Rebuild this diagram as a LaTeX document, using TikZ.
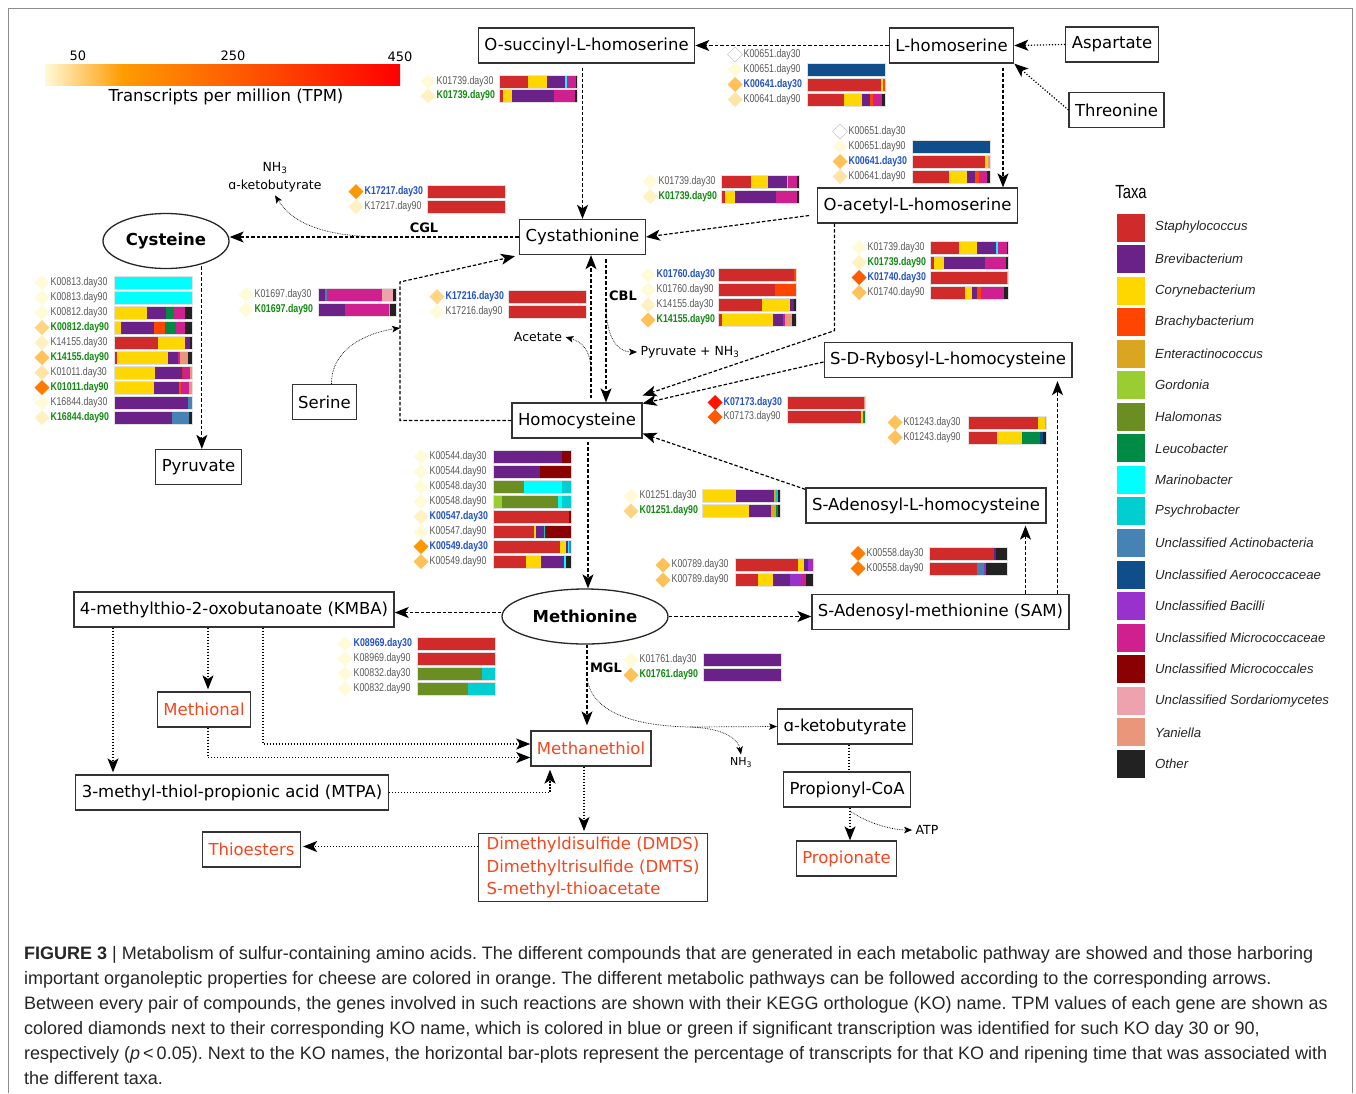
\documentclass[tikz,border=0pt]{standalone}
\usepackage{fontspec}
\setmainfont{DejaVu Sans}
\newfontfamily\arialfont{Liberation Sans}
\newfontfamily\narrowfont[FakeStretch=0.78]{Liberation Sans}
\usetikzlibrary{shapes.geometric,arrows.meta,calc}

% taxa colours
\definecolor{staph}{HTML}{D12A2A}
\definecolor{brevi}{HTML}{6A2188}
\definecolor{coryne}{HTML}{FFD700}
\definecolor{brachy}{HTML}{FF4500}
\definecolor{entero}{HTML}{DAA520}
\definecolor{gordo}{HTML}{9ACD32}
\definecolor{halo}{HTML}{6B8E23}
\definecolor{leuco}{HTML}{008B45}
\definecolor{marino}{HTML}{00FFFF}
\definecolor{psychro}{HTML}{00CED1}
\definecolor{uactino}{HTML}{4682B4}
\definecolor{uaero}{HTML}{104E8B}
\definecolor{ubac}{HTML}{9932CC}
\definecolor{umicroc}{HTML}{D02090}
\definecolor{umicrocl}{HTML}{8B0000}
\definecolor{usord}{HTML}{EEA2AD}
\definecolor{yani}{HTML}{E9967A}
\definecolor{other}{HTML}{222222}
% TPM scale and text colours
\definecolor{barlo}{HTML}{FFF9D6}
\definecolor{barmid}{HTML}{FF9B00}
\definecolor{barhi}{HTML}{FF0000}
\definecolor{aromac}{HTML}{F5461E}
\definecolor{ko30}{HTML}{2352C4}
\definecolor{ko90}{HTML}{128A12}

\tikzset{
  cpd/.style={draw=black!80, line width=1.3pt, fill=white, inner xsep=6pt,
    minimum height=35pt, font=\fontsize{16.5}{20}\selectfont},
  aroma/.style={cpd, text=aromac},
  hub/.style={ellipse, draw=black!85, line width=1.3pt, fill=white, inner sep=0pt,
    font=\bfseries\fontsize{16.5}{20}\selectfont},
  flow/.style={line width=1.2pt, dash pattern=on 3.5pt off 2pt,
    -{Stealth[length=14pt,width=11pt,inset=3.5pt]}},
  side/.style={line width=1.2pt, dash pattern=on 1.2pt off 1.8pt,
    -{Stealth[length=14pt,width=11pt,inset=3.5pt]}},
  twig/.style={line width=0.7pt, densely dotted,
    -{Stealth[length=8pt,width=6.5pt,inset=2pt]}},
  enz/.style={font=\bfseries\fontsize{13}{15}\selectfont},
  small/.style={font=\fontsize{12.5}{18}\selectfont},
  tick/.style={font=\fontsize{13}{15}\selectfont},
  kogray/.style={anchor=west, inner sep=0pt, text=black!65,
    font=\narrowfont\fontsize{11.3}{13}\selectfont},
  kod30/.style={kogray, text=ko30, font=\narrowfont\bfseries\fontsize{11.3}{13}\selectfont},
  kod90/.style={kogray, text=ko90, font=\narrowfont\bfseries\fontsize{11.3}{13}\selectfont},
  taxon/.style={anchor=west, inner sep=0pt, text=black!85,
    font=\arialfont\itshape\fontsize{13.2}{15}\selectfont},
  tpm0/.style={fill=white, draw=black!22, line width=0.4pt},
  tpm1/.style={fill={rgb,255:red,255;green,251;blue,217}},
  tpm2/.style={fill={rgb,255:red,255;green,241;blue,194}},
  tpm3/.style={fill={rgb,255:red,255;green,228;blue,166}},
  tpm4/.style={fill={rgb,255:red,255;green,213;blue,132}},
  tpm5/.style={fill={rgb,255:red,255;green,193;blue,90}},
  tpm6/.style={fill={rgb,255:red,255;green,152;blue,0}},
  tpm7/.style={fill={rgb,255:red,255;green,122;blue,0}},
  tpm8/.style={fill={rgb,255:red,255;green,90;blue,0}},
  tpm9/.style={fill={rgb,255:red,255;green,20;blue,0}},
}

% diamond + KO name: x, y, diamond style, label style, label
\newcount\kon
\newcommand{\kolabel}[5]{%
  \global\advance\kon by 1
  \path[#3] ({#1-7.5},{#2}) -- ({#1},{#2-7.5}) -- ({#1+7.5},{#2}) -- ({#1},{#2+7.5}) -- cycle;
  \node[#4] (ko\the\kon) at ({#1+8.5},{#2}) {#5};}
% stacked bar: x, y, colour/cumulative percent list
\newcommand{\kobar}[3]{%
  \foreach \kc/\ke [remember=\ke as \ks (initially 0)] in {#3}
    {\fill[\kc] ({#1+0.78*\ks},{#2-6.5}) rectangle ({#1+0.78*\ke},{#2+6.5});}
  \draw[black!12, line width=0.5pt] ({#1},{#2-6.5}) rectangle ({#1+78},{#2+6.5});}
% full row: diamond x, bar x, y, diamond, label style, label, bar list
\newcommand{\korow}[7]{\kolabel{#1}{#3}{#4}{#5}{#6}\kobar{#2}{#3}{#7}}

\begin{document}
\frenchspacing
\begin{tikzpicture}[x=1pt,y=-1pt]

% Canvas and frame
\useasboundingbox (0,0) rectangle (1356,1093);
\fill[white] (0,0) rectangle (1356,1093);
\draw[black!45, line width=1pt] (8,1093) -- (8,8.5) -- (1352.5,8.5) -- (1352.5,1093);

% TPM colour bar
\shade[left color=barlo, right color=barmid] (45,64) rectangle (123,85);
\shade[left color=barmid, right color=barhi] (123,64) rectangle (400,85);
\node[tick] (t50) at (78,56) {50};
\node[tick] (t250) at (233,56) {250};
\node[tick] (t450) at (400,57) {450};
\node[font=\fontsize{16.5}{20}\selectfont] (tpmlab) at (226,97) {Transcripts per million (TPM)};

% Compounds
\node[cpd] (osuc) at (586.5,45.5) {O-succinyl-L-homoserine};
\node[cpd] (lhom) at (951.5,45.5) {L-homoserine};
\node[cpd] (asp) at (1112,44.5) {Aspartate};
\node[cpd] (thr) at (1116.5,110) {Threonine};
\node[cpd] (oacet) at (917.5,205.5) {O-acetyl-L-homoserine};
\node[cpd] (cysta) at (582.5,237) {Cystathionine};
\node[hub, minimum width=126pt, minimum height=55pt] (cys) at (166,241) {Cysteine};
\node[cpd] (pyr) at (198.5,467) {Pyruvate};
\node[cpd] (ser) at (324.5,402) {Serine};
\node[cpd] (hcys) at (577,420.5) {Homocysteine};
\node[cpd] (sdr) at (948,360) {S-D-Rybosyl-L-homocysteine};
\node[cpd] (sah) at (926,505.5) {S-Adenosyl-L-homocysteine};
\node[cpd] (sam) at (940.5,612) {S-Adenosyl-methionine (SAM)};
\node[hub, minimum width=166pt, minimum height=55pt] (meth) at (585,616.5) {Methionine};
\node[cpd] (kmba) at (234,609.5) {4-methylthio-2-oxobutanoate (KMBA)};
\node[aroma] (mthl) at (204,709.5) {Methional};
\node[aroma] (mtl) at (591,748.5) {Methanethiol};
\node[cpd] (mtpa) at (232,792.5) {3-methyl-thiol-propionic acid (MTPA)};
\node[aroma] (thio) at (251.5,849.5) {Thioesters};
\node[aroma, align=left, inner xsep=8pt, font=\fontsize{16.5}{22.5}\selectfont] (dmds) at (593,867.5)
  {Dimethyldisulfide (DMDS)\\Dimethyltrisulfide (DMTS)\\S-methyl-thioacetate};
\node[cpd] (aket) at (845,726.5) {ɑ-ketobutyrate};
\node[cpd] (pcoa) at (847,789.5) {Propionyl-CoA};
\node[aroma] (pnate) at (846.5,858.5) {Propionate};

% Side products and enzymes
\node[small, align=center] (ketolab) at (275,177) {NH\textsubscript{3}\\ɑ-ketobutyrate};
\node[enz] (cgl) at (424,228) {CGL};
\node[enz] (cbl) at (623,296) {CBL};
\node[enz] (mgl) at (606,668) {MGL};
\node[small] (acet) at (538,337) {Acetate};
\node[small, anchor=west] (pyrnh) at (637,352) {Pyruvate + NH\textsubscript{3}};
\node[font=\fontsize{11}{13}\selectfont] (nhb) at (741,763) {NH\textsubscript{3}};
\node[small] (atp) at (927,830) {ATP};

% Connectors, upper part
\draw[flow] (lhom.west) -- (osuc.east);
\draw[side] (asp.west) -- (lhom.east);
\draw[side] (thr.west) -- (lhom.south east);
\draw[flow, shorten <=4pt] ([xshift=51.5pt]lhom.south) -- ([xshift=85.5pt]oacet.north);
\draw[flow, shorten <=4pt] (osuc.south -| cysta.north) -- (cysta.north);
\draw[flow, shorten <=8pt] ([yshift=-9pt]oacet.west) -- (cysta.east);
\draw[flow] (cysta.west) -- (cysta.west -| cys.east);
\coordinate (cglfork) at (380,237);
\draw[twig] (cglfork) .. controls (320,236) and (292,222) .. (ketolab.south);
\draw[flow, shorten <=2pt] (cys.-33) -- (cys.-33 |- pyr.north);

% Homocysteine and cystathionine loop
\coordinate (loopc) at (400,282);
\draw[flow] (hcys.west) -| (loopc) -- ([xshift=-4pt,yshift=-1pt]cysta.south west);
\coordinate (serj) at (400,328);
\draw[twig] ([xshift=7pt]ser.north) .. controls (331,350) and (365,333) .. (serj);
\draw[flow, shorten <=4pt] ([xshift=14pt]hcys.north) -- ([xshift=14pt]hcys.north |- cysta.south);
\coordinate (acfork) at (591,372);
\draw[twig] (acfork) .. controls (591,350) and (582,342) .. (acet.east);
\draw[flow, shorten <=4pt] ([xshift=23.5pt]cysta.south) -- ([xshift=23.5pt]cysta.south |- hcys.north);
\coordinate (cblfork) at (606,305);
\draw[twig] (cblfork) .. controls (606,335) and (616,352) .. (pyrnh.west);
\draw[flow] ([xshift=-83pt]oacet.south) -- ++(0,107) -- ([yshift=25pt]hcys.east);
\draw[flow] ([yshift=-2pt]sdr.west) -- ([yshift=17pt]hcys.east);
\draw[flow] ([yshift=-2pt]sah.north west) -- ([yshift=-13pt]hcys.east);
\draw[flow, shorten >=3pt] ([xshift=117pt]sam.north) -- ([xshift=117pt]sam.north |- sdr.south);
\draw[flow, shorten >=2pt] ([xshift=85pt]sam.north) -- ([xshift=85pt]sam.north |- sah.south);
\draw[flow, shorten <=3pt] ([xshift=11pt]hcys.south) -- ([xshift=11pt]hcys.south |- meth.north);

% Methionine degradation
\draw[flow] (meth.east) -- (meth.east -| sam.west);
\draw[flow] ([yshift=4pt]meth.west) -- ([yshift=4pt]meth.west -| kmba.east);
\draw[flow, shorten >=5pt] ([xshift=2pt]meth.south) -- ([xshift=2pt]meth.south |- mtl.north);
\coordinate (mglfork) at (587,678);
\coordinate (mglbend) at (690,727);
\draw[twig] (mglfork) .. controls (592,715) and (640,726) .. (mglbend) -- (aket.west);
\draw[twig] (mglbend) .. controls (722,728) and (738,738) .. (nhb.north);
\draw[side, shorten >=2pt] ([xshift=-121pt]kmba.south) -- ([xshift=-121pt]kmba.south |- mtpa.north);
\draw[side, shorten >=2pt] ([xshift=-26pt]kmba.south) -- ([xshift=-26pt]kmba.south |- mthl.north);
\draw[side] ([xshift=29pt]kmba.south) |- ([yshift=4.5pt]mtl.west);
\draw[side] ([xshift=4pt]mthl.south) |- ([yshift=-9pt]mtl.west);
\draw[side, shorten >=3pt] (mtpa.east) -| ([xshift=-41pt]mtl.south);
\draw[side, shorten >=2pt] ([xshift=-7pt]mtl.south) -- ([xshift=-7pt]mtl.south |- dmds.north);
\draw[side, shorten >=2pt] ([yshift=21pt]dmds.west) -- ([yshift=3pt]thio.east);
\draw[line width=1.2pt, dash pattern=on 1.2pt off 1.8pt] ([xshift=4pt]aket.south) -- ([xshift=4pt]aket.south |- pcoa.north);
\draw[side] ([xshift=3pt]pcoa.south) -- ([xshift=3pt]pcoa.south |- pnate.north);
\coordinate (atpfork) at (850,811);
\draw[twig] (atpfork) .. controls (870,825) and (895,830) .. (atp.west);

% KO bar plots: O-succinyl-L-homoserine
\korow{428}{499}{81.5}{tpm1}{kogray}{K01739.day30}{staph/37,coryne/61,brevi/84,marino/87,umicroc/99,other/100}
\korow{428}{499}{96}{tpm2}{kod90}{K01739.day90}{staph/5,coryne/17,brevi/70,umicroc/97,other/100}
% L-homoserine -> O-succinyl
\kolabel{735}{54.5}{tpm0}{kogray}{K00651.day30}
\korow{735}{807}{69.5}{tpm1}{kogray}{K00651.day90}{uaero/100}
\korow{735}{807}{84.5}{tpm5}{kod30}{K00641.day30}{staph/95,coryne/98,brachy/100}
\korow{735}{807}{99.5}{tpm3}{kogray}{K00641.day90}{staph/48,coryne/70,brevi/81,brachy/85,umicroc/96,other/100}
% L-homoserine -> O-acetyl
\kolabel{840}{131.5}{tpm0}{kogray}{K00651.day30}
\korow{840}{912}{146.5}{tpm1}{kogray}{K00651.day90}{uaero/100}
\korow{840}{912}{161.5}{tpm5}{kod30}{K00641.day30}{staph/94,coryne/98,yani/100}
\korow{840}{912}{176.5}{tpm3}{kogray}{K00641.day90}{staph/48,coryne/70,brevi/81,brachy/86,umicroc/96,other/100}
% O-acetyl -> cystathionine
\korow{650}{721}{181.5}{tpm1}{kogray}{K01739.day30}{staph/38,coryne/60,brevi/84,marino/86,umicroc/98,other/100}
\korow{650}{721}{196.5}{tpm2}{kod90}{K01739.day90}{staph/5,coryne/18,brevi/70,umicroc/97,other/100}
% O-acetyl -> homocysteine
\korow{859}{930}{247.5}{tpm1}{kogray}{K01739.day30}{staph/37,coryne/60,brevi/84,marino/87,umicroc/99,other/100}
\korow{859}{930}{262.5}{tpm2}{kod90}{K01739.day90}{staph/5,coryne/18,brevi/70,umicroc/97,other/100}
\korow{859}{930}{277.5}{tpm8}{kod30}{K01740.day30}{staph/99,yani/100}
\korow{859}{930}{292.5}{tpm5}{kogray}{K01740.day90}{staph/45,coryne/54,brevi/60,brachy/66,umicroc/95,other/100}
% cystathionine -> cysteine
\korow{356}{427}{191.5}{tpm6}{kod30}{K17217.day30}{staph/100}
\korow{356}{427}{206.5}{tpm2}{kogray}{K17217.day90}{staph/100}
% cysteine -> pyruvate
\korow{42}{114}{282.5}{tpm1}{kogray}{K00813.day30}{marino/100}
\korow{42}{114}{297.5}{tpm1}{kogray}{K00813.day90}{marino/100}
\korow{42}{114}{312.5}{tpm1}{kogray}{K00812.day30}{coryne/42,brevi/67,leuco/77,umicroc/91,other/100}
\korow{42}{114}{327.5}{tpm4}{kod90}{K00812.day90}{coryne/9,brevi/51,brachy/66,leuco/80,umicroc/91,other/100}
\korow{42}{114}{342.5}{tpm2}{kogray}{K14155.day30}{staph/57,coryne/91,brevi/97,yani/98,other/100}
\korow{42}{114}{357.5}{tpm5}{kod90}{K14155.day90}{staph/4,coryne/69,brevi/82,umicroc/85,yani/95,other/100}
\korow{42}{114}{372.5}{tpm3}{kogray}{K01011.day30}{coryne/52,brevi/87,staph/88,umicroc/98,yani/100}
\korow{42}{114}{387.5}{tpm7}{kod90}{K01011.day90}{coryne/51,brevi/83,brachy/86,umicroc/96,yani/100}
\korow{42}{114}{402.5}{tpm1}{kogray}{K16844.day30}{brevi/95,uactino/100}
\korow{42}{114}{417.5}{tpm2}{kod90}{K16844.day90}{brevi/74,uactino/96,other/100}
% serine -> cystathionine
\korow{246}{318}{294.5}{tpm1}{kogray}{K01697.day30}{brevi/9,uactino/12,umicroc/82,usord/96,other/100}
\korow{246}{318}{309.5}{tpm1}{kod90}{K01697.day90}{brevi/34,umicroc/91,yani/92,other/100}
% homocysteine -> cystathionine
\korow{437}{508}{296.5}{tpm4}{kod30}{K17216.day30}{staph/100}
\korow{437}{508}{311.5}{tpm1}{kogray}{K17216.day90}{staph/100}
% cystathionine -> homocysteine (CBL)
\korow{648}{718}{275}{tpm1}{kod30}{K01760.day30}{staph/97,brachy/100}
\korow{648}{718}{290}{tpm1}{kogray}{K01760.day90}{staph/73,brachy/100}
\korow{648}{718}{305}{tpm2}{kogray}{K14155.day30}{staph/57,coryne/92,brevi/98,other/100}
\korow{648}{718}{320}{tpm5}{kod90}{K14155.day90}{staph/5,coryne/70,brevi/83,umicroc/86,yani/95,other/100}
% S-D-rybosyl -> homocysteine
\korow{715}{787}{402.5}{tpm9}{kod30}{K07173.day30}{staph/99,yani/100}
\korow{715}{787}{417}{tpm8}{kogray}{K07173.day90}{staph/95,coryne/97,leuco/100}
% SAM -> S-D-rybosyl
\korow{895}{968}{422.5}{tpm5}{kogray}{K01243.day30}{staph/90,coryne/99,yani/100}
\korow{895}{968}{437.5}{tpm5}{kogray}{K01243.day90}{staph/37,coryne/69,leuco/92,uaero/96,other/100}
% S-adenosyl-homocysteine -> homocysteine
\korow{631}{702}{496}{tpm1}{kogray}{K01251.day30}{coryne/44,brevi/92,entero/95,psychro/97,other/100}
\korow{631}{702}{511}{tpm4}{kod90}{K01251.day90}{coryne/60,brevi/88,entero/95,leuco/97,other/100}
% SAM -> S-adenosyl-homocysteine
\korow{858}{929}{553.5}{tpm7}{kogray}{K00558.day30}{staph/83,brevi/86,other/100}
\korow{858}{929}{568.5}{tpm7}{kogray}{K00558.day90}{staph/61,uactino/71,ubac/73,other/100}
% methionine -> SAM
\korow{663}{735}{565}{tpm5}{kogray}{K00789.day30}{staph/81,coryne/89,brevi/94,ubac/99,umicroc/100}
\korow{663}{735}{580}{tpm5}{kogray}{K00789.day90}{staph/29,coryne/49,brevi/71,ubac/85,umicroc/91,other/100}
% homocysteine -> methionine
\korow{421}{493}{456.5}{tpm1}{kogray}{K00544.day30}{brevi/88,umicrocl/100}
\korow{421}{493}{471.5}{tpm1}{kogray}{K00544.day90}{brevi/60,umicrocl/100}
\korow{421}{493}{486.5}{tpm1}{kogray}{K00548.day30}{halo/40,marino/88,psychro/100}
\korow{421}{493}{501.5}{tpm1}{kogray}{K00548.day90}{gordo/12,halo/83,marino/89,psychro/100}
\korow{421}{493}{516.5}{tpm2}{kod30}{K00547.day30}{staph/97,coryne/98,umicrocl/100}
\korow{421}{493}{531.5}{tpm1}{kogray}{K00547.day90}{staph/53,coryne/55,brevi/65,psychro/67,umicrocl/100}
\korow{421}{493}{546.5}{tpm6}{kod30}{K00549.day30}{staph/86,coryne/94,brevi/96,marino/98,uactino/100}
\korow{421}{493}{561.5}{tpm5}{kogray}{K00549.day90}{staph/42,coryne/61,brevi/91,marino/93,other/100}
% methionine -> KMBA
\korow{345}{417}{643.5}{tpm1}{kod30}{K08969.day30}{staph/100}
\korow{345}{417}{658.5}{tpm1}{kogray}{K08969.day90}{staph/100}
\korow{345}{417}{673.5}{tpm1}{kogray}{K00832.day30}{halo/83,psychro/100}
\korow{345}{417}{688.5}{tpm1}{kogray}{K00832.day90}{halo/66,psychro/100}
% methionine -> methanethiol (MGL)
\korow{631}{703}{660}{tpm1}{kogray}{K01761.day30}{brevi/100}
\korow{631}{703}{675}{tpm5}{kod90}{K01761.day90}{brevi/100}

% Taxa legend
\node[font=\narrowfont\fontsize{19}{20}\selectfont] (taxa) at (1131,192) {Taxa};
\foreach \c/\n [count=\i from 0] in {staph/Staphylococcus, brevi/Brevibacterium,
    coryne/Corynebacterium, brachy/Brachybacterium, entero/Enteractinococcus,
    gordo/Gordonia, halo/Halomonas, leuco/Leucobacter, marino/Marinobacter,
    psychro/Psychrobacter, uactino/Unclassified Actinobacteria,
    uaero/Unclassified Aerococcaceae, ubac/Unclassified Bacilli,
    umicroc/Unclassified Micrococcaceae, umicrocl/Unclassified Micrococcales,
    usord/Unclassified Sordariomycetes, yani/Yaniella, other/Other}
  {\fill[\c] (1117,{213.5+31.55*\i}) rectangle (1145,{241.5+31.55*\i});
   \node[taxon] (tx\i) at (1155,{227.5+31.55*\i}) {\n};}

% Caption
\node[anchor=north west, inner sep=0pt, align=left, text=black!85,
  font=\arialfont\fontsize{18}{25}\selectfont] (caption) at (24,946)
  {\textbf{FIGURE 3} | Metabolism of sulfur-containing amino acids. The different compounds that are generated in each metabolic pathway are showed and those harboring\\
   important organoleptic properties for cheese are colored in orange. The different metabolic pathways can be followed according to the corresponding arrows.\\
   Between every pair of compounds, the genes involved in such reactions are shown with their KEGG orthologue (KO) name. TPM values of each gene are shown as\\
   colored diamonds next to their corresponding KO name, which is colored in blue or green if significant transcription was identified for such KO day 30 or 90,\\
   respectively (\textit{p}\,<\,0.05). Next to the KO names, the horizontal bar-plots represent the percentage of transcripts for that KO and ripening time that was associated with\\
   the different taxa.};

\end{tikzpicture}
\end{document}
